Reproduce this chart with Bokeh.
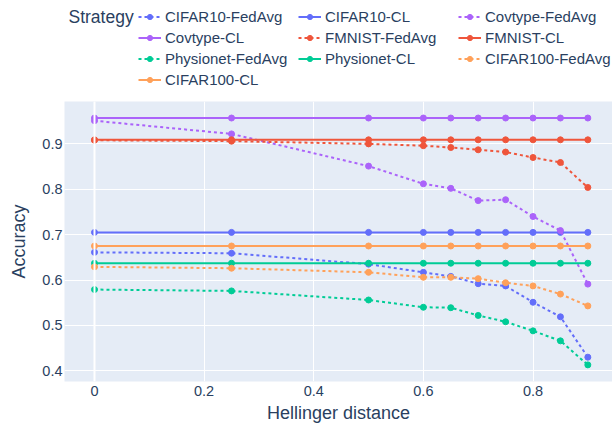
from bokeh.plotting import figure
from bokeh.models import Legend, LegendItem, Label, FixedTicker, Span, Range1d
from bokeh.layouts import column
from bokeh.embed import file_html
from bokeh.resources import INLINE

hellinger = [0, 0.25, 0.5, 0.6, 0.65, 0.7, 0.75, 0.8, 0.85, 0.9]

cifar10_fedavg = [0.661, 0.659, 0.635, 0.617, 0.608, 0.592, 0.587, 0.551, 0.519, 0.430]
cifar10_cl = [0.705] * 10
covtype_fedavg = [0.951, 0.922, 0.851, 0.812, 0.802, 0.775, 0.777, 0.740, 0.709, 0.591]
covtype_cl = [0.957] * 10
fmnist_fedavg = [0.908, 0.906, 0.900, 0.896, 0.892, 0.887, 0.882, 0.870, 0.859, 0.804]
fmnist_cl = [0.909] * 10
physionet_fedavg = [0.579, 0.576, 0.556, 0.540, 0.539, 0.522, 0.508, 0.488, 0.466, 0.413]
physionet_cl = [0.637] * 10
cifar100_fedavg = [0.629, 0.626, 0.617, 0.606, 0.606, 0.603, 0.594, 0.587, 0.569, 0.543]
cifar100_cl = [0.675] * 10

x_ticks = [0, 0.2, 0.4, 0.6, 0.8]
y_ticks = [0.4, 0.5, 0.6, 0.7, 0.8, 0.9]

series = [
    ("CIFAR10-FedAvg", cifar10_fedavg, "#636EFA", "3 3"),
    ("CIFAR10-CL", cifar10_cl, "#636EFA", "solid"),
    ("Covtype-FedAvg", covtype_fedavg, "#AB63FA", "3 3"),
    ("Covtype-CL", covtype_cl, "#AB63FA", "solid"),
    ("FMNIST-FedAvg", fmnist_fedavg, "#EF553B", "3 3"),
    ("FMNIST-CL", fmnist_cl, "#EF553B", "solid"),
    ("Physionet-FedAvg", physionet_fedavg, "#00CC96", "3 3"),
    ("Physionet-CL", physionet_cl, "#00CC96", "solid"),
    ("CIFAR100-FedAvg", cifar100_fedavg, "#FFA15A", "3 3"),
    ("CIFAR100-CL", cifar100_cl, "#FFA15A", "solid"),
]

FONT = "Liberation Sans"
TXT = "#2a3f5f"

# ---- header (legend only; its series lie outside its ranges) ----
head = figure(width=612, height=101, output_backend="svg", toolbar_location=None,
              x_axis_type=None, y_axis_type=None,
              x_range=Range1d(10, 11), y_range=Range1d(10, 11),
              min_border_left=0, min_border_right=0, min_border_top=0,
              min_border_bottom=0)
head.outline_line_color = None
head.xgrid.visible = False
head.ygrid.visible = False
head.background_fill_color = "white"
head.border_fill_color = "white"

items = []
for name, vals, color, dash in series:
    l = head.line(hellinger, vals, line_color=color, line_width=2, line_dash=dash)
    s = head.scatter(hellinger, vals, size=6, fill_color=color, line_color=color)
    items.append(LegendItem(label=name, renderers=[l, s]))

legend = Legend(items=items, ncols=3, location=(74, 13.5),
                orientation="horizontal",
                label_text_font=FONT, label_text_font_size="15px",
                label_text_color=TXT, label_width=129, label_height=17,
                glyph_width=23, glyph_height=13, label_standoff=4,
                spacing=4, padding=5, margin=0,
                background_fill_alpha=0, border_line_color=None)
head.add_layout(legend, "center")
head.add_layout(Label(x=4, y=85, x_units="screen", y_units="screen", text="Strategy",
                      text_font=FONT, text_font_size="17.5px", text_color=TXT,
                      text_baseline="middle", text_align="left"))

# ---- main plot ----
p = figure(width=612, height=326, output_backend="svg", toolbar_location=None,
           x_range=(-0.0547, 0.945), y_range=(0.3764, 0.9934),
           min_border_left=64, min_border_right=0, min_border_top=0,
           min_border_bottom=46)
p.background_fill_color = "#E5ECF6"
p.border_fill_color = "white"
p.outline_line_color = None

for g in (p.xgrid, p.ygrid):
    g.grid_line_color = "white"
    g.grid_line_width = 1

p.add_layout(Span(location=0, dimension="height", line_color="white", line_width=2))

for name, vals, color, dash in series:
    p.line(hellinger, vals, line_color=color, line_width=2, line_dash=dash)
    p.scatter(hellinger, vals, size=6, fill_color=color, line_color=color)

for ax in (p.xaxis, p.yaxis):
    ax.axis_line_color = None
    ax.major_tick_line_color = None
    ax.minor_tick_line_color = None
    ax.major_tick_out = 0
    ax.major_tick_in = 0
    ax.minor_tick_out = 0
    ax.major_label_text_font = FONT
    ax.major_label_text_font_size = "14.5px"
    ax.major_label_text_color = TXT
    ax.axis_label_text_font = FONT
    ax.axis_label_text_font_size = "18px"
    ax.axis_label_text_font_style = "normal"
    ax.axis_label_text_color = TXT

p.xaxis.ticker = FixedTicker(ticks=x_ticks)
p.xaxis.major_label_overrides = {0: "0"}
p.xaxis.axis_label = "Hellinger distance"
p.xaxis.major_label_standoff = 4
p.xaxis.axis_label_standoff = 4

p.yaxis.ticker = FixedTicker(ticks=y_ticks)
p.yaxis.axis_label = "Accuracy"
p.yaxis.major_label_standoff = 2
p.yaxis.axis_label_standoff = 10

layout = column(head, p, spacing=0)
open("out.html", "w").write(file_html(layout, INLINE))
